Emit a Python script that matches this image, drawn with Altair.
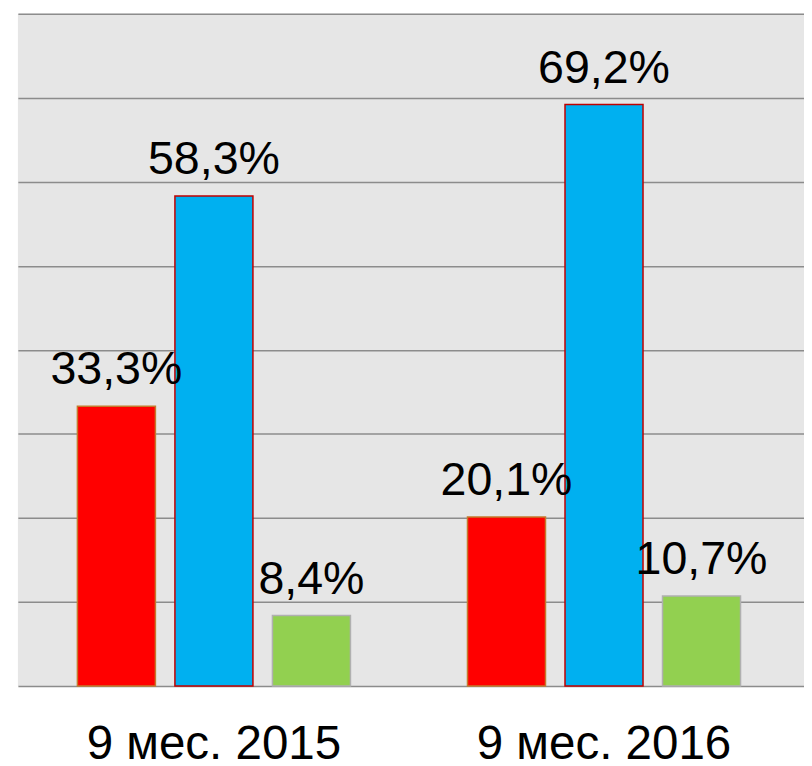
import altair as alt
import pandas as pd

periods = ["9 мес. 2015", "9 мес. 2016"]
series = ["Серия 1", "Серия 2", "Серия 3"]
values_2015 = [33.3, 58.3, 8.4]
values_2016 = [20.1, 69.2, 10.7]
fill_colors = ["#ff0000", "#00b0f0", "#92d050"]
stroke_colors = ["#c47a2c", "#c00000", "#b0b0b0"]
y_ticks = [0, 10, 20, 30, 40, 50, 60, 70, 80]

rows = []
for period, vals in zip(periods, [values_2015, values_2016]):
    for s, v in zip(series, vals):
        rows.append({"period": period, "series": s, "value": v,
                     "label": f"{v:.1f}".replace(".", ",") + "%"})
df = pd.DataFrame(rows)

FONT = "Liberation Sans"

x_enc = alt.X("period:N", sort=periods, title=None,
              scale=alt.Scale(paddingInner=0, paddingOuter=3 / 394, align=1 / 6),
              axis=alt.Axis(labelAngle=0, domain=False, ticks=False, labelLimit=0,
                            labelFontSize=48, labelFont=FONT, labelColor="#000000",
                            labelBaseline="alphabetic", labelPadding=73))
xo_enc = alt.XOffset("series:N", sort=series,
                     scale=alt.Scale(paddingInner=0.2, paddingOuter=0.6))
y_enc = alt.Y("value:Q", title=None,
              scale=alt.Scale(domain=[0, 80], nice=False, zero=True),
              axis=alt.Axis(values=y_ticks, labels=False, ticks=False, domain=False,
                            grid=True, gridColor="#8c8c8c", gridWidth=1.5, gridOpacity=1))

base = alt.Chart(df)

bars = base.mark_bar(strokeWidth=1.5).encode(
    x=x_enc,
    xOffset=xo_enc,
    y=y_enc,
    color=alt.Color("series:N", sort=series,
                    scale=alt.Scale(domain=series, range=fill_colors), legend=None),
    stroke=alt.Stroke("series:N", sort=series,
                      scale=alt.Scale(domain=series, range=stroke_colors), legend=None),
)

labels = base.mark_text(fontSize=47, font=FONT, color="#000000",
                        baseline="alphabetic", dy=-22).encode(
    x=alt.X("period:N", sort=periods),
    xOffset=alt.XOffset("series:N", sort=series),
    y=alt.Y("value:Q"),
    text="label:N",
)

chart = alt.layer(bars, labels).properties(
    width=794, height=679,
    padding={"left": 10, "top": 2, "right": 0, "bottom": 76},
    autosize=alt.AutoSizeParams(type="none"),
    background="#ffffff",
).configure_view(fill="#e6e6e6", stroke=None)

chart.save("out.html", embed_options={"renderer": "svg", "actions": False})
